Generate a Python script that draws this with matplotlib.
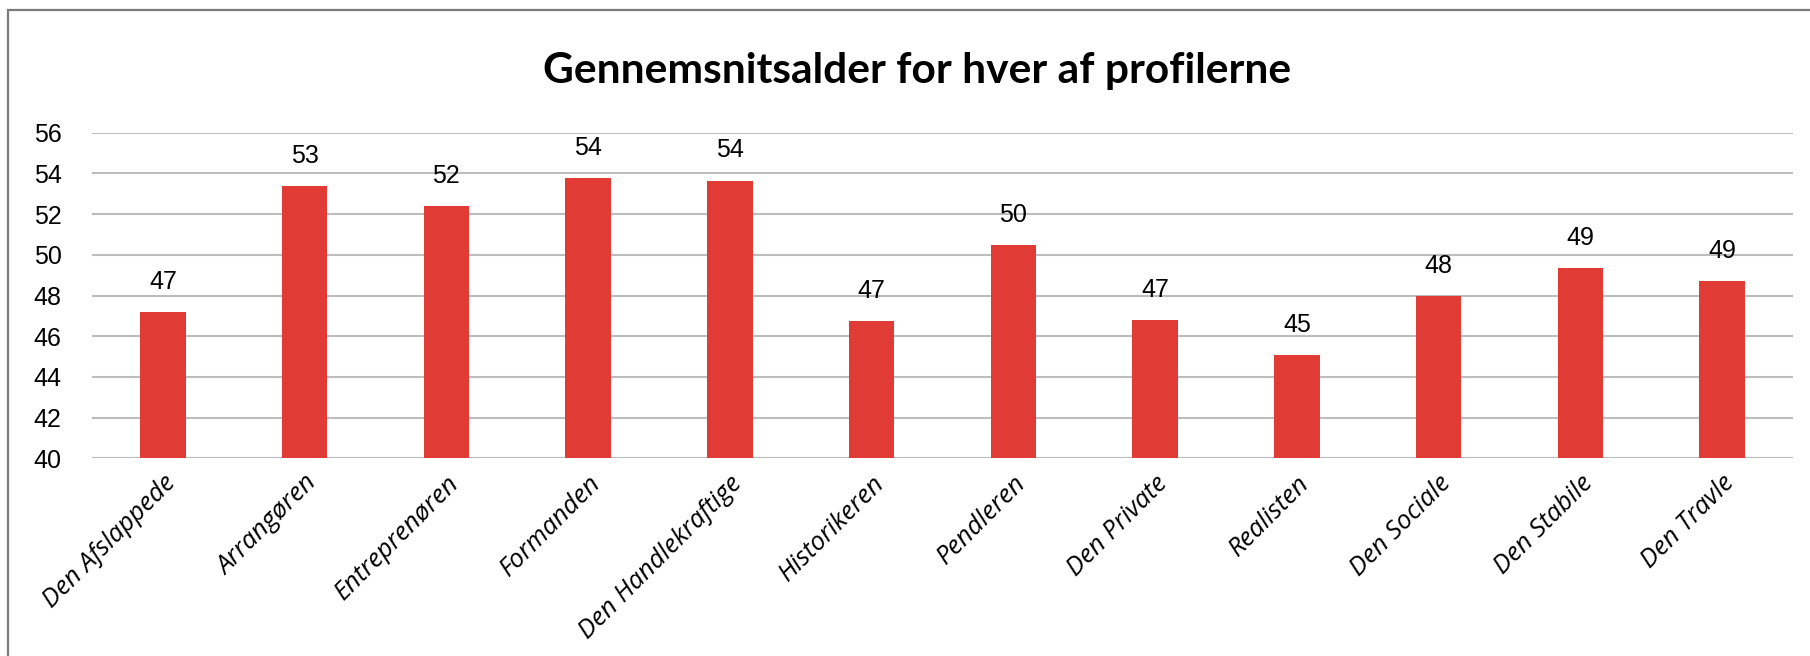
import matplotlib
matplotlib.use("Agg")
import matplotlib.pyplot as plt
from matplotlib.patches import Rectangle

categories = ["Den Afslappede", "Arrangøren", "Entreprenøren", "Formanden",
              "Den Handlekraftige", "Historikeren", "Pendleren", "Den Private",
              "Realisten", "Den Sociale", "Den Stabile", "Den Travle"]
ages = [47.2, 53.36, 52.38, 53.78, 53.65, 46.73, 50.48, 46.81, 45.06, 47.97, 49.37, 48.69]
yticks = [40, 42, 44, 46, 48, 50, 52, 54, 56]
title = "Gennemsnitsalder for hver af profilerne"

W, H = 1810, 656
fig = plt.figure(figsize=(W / 100, H / 100), dpi=100)
fig.patch.set_facecolor("white")

# outer frame
fig.add_artist(Rectangle((8 / W, -0.1), 1.2, (H - 10) / H + 0.1, transform=fig.transFigure,
                         fill=False, edgecolor="#7a7a7a", linewidth=1.6))

ax = fig.add_axes([92 / W, (H - 458.3) / H, (1793 - 92) / W, (458.3 - 132.7) / H])
x = list(range(len(categories)))
ax.bar(x, ages, width=0.32, bottom=0, color="#E03B35", zorder=3)
ax.set_ylim(40, 56)
ax.set_xlim(-0.5, len(categories) - 0.5)
ax.set_yticks(yticks)
ax.set_yticklabels([str(v) for v in yticks], family="Liberation Sans", fontsize=18)
ax.yaxis.grid(True, color="#bdbdbd", linewidth=1.5, zorder=0)
ax.tick_params(axis="y", length=0, pad=22)
ax.tick_params(axis="x", length=0, pad=9)
for s in ax.spines.values():
    s.set_visible(False)
ax.set_xticks(x)
ax.set_xticklabels(categories, rotation=45, ha="right", rotation_mode="anchor",
                   family="Open Sans", style="italic", fontsize=18.5)

for xi, v in zip(x, ages):
    ax.annotate(f"{v:.0f}", (xi, v), xytext=(0, 13), textcoords="offset points",
                ha="center", va="bottom", family="Liberation Sans", fontsize=18,
                annotation_clip=False)

fig.text(917 / W, (H - 83) / H, title, ha="center", va="baseline",
         family="Lato", fontweight="bold", fontsize=30.6)

fig.savefig("out.png", dpi=100, facecolor="white")
